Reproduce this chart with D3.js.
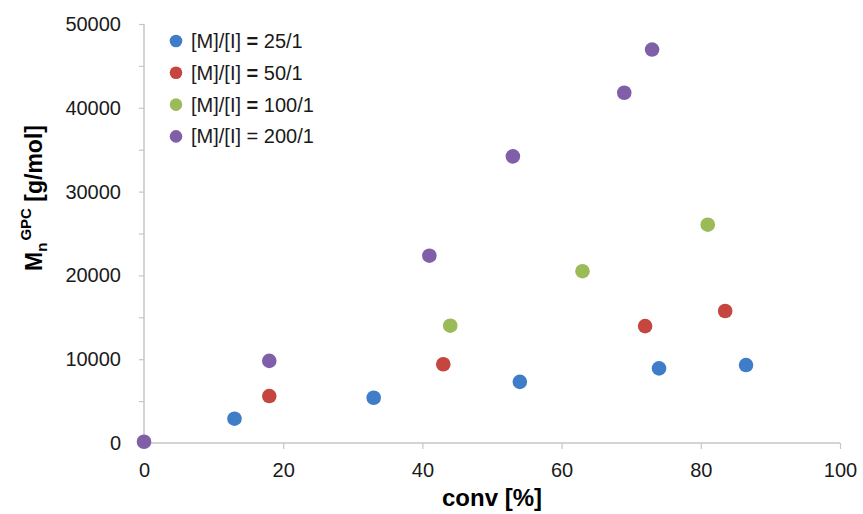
<!DOCTYPE html>
<html>
<head>
<meta charset="utf-8">
<script src="https://cdn.jsdelivr.net/npm/d3@7"></script>
<style>
  body { margin: 0; background: #fff; }
  text { font-family: "Liberation Sans", Arial, sans-serif; }
</style>
</head>
<body>
<div id="chart"></div>
<script>
// data
var seriesNames = ["[M]/[I] = 25/1", "[M]/[I] = 50/1", "[M]/[I] = 100/1", "[M]/[I] = 200/1"];
var seriesColors = ["#3f7dc8", "#c4463f", "#9bbb59", "#7f5fa8"];

var conv25 = [13, 33, 54, 74, 86.5];
var mn25 = [2900, 5400, 7300, 8900, 9300];

var conv50 = [18, 43, 72, 83.5];
var mn50 = [5600, 9400, 13950, 15750];

var conv100 = [44, 63, 81];
var mn100 = [14000, 20500, 26050];

var conv200 = [0, 18, 41, 53, 69, 73];
var mn200 = [150, 9800, 22350, 34200, 41800, 46950];

var xTicks = [0, 20, 40, 60, 80, 100];
var yTicks = [0, 5000, 10000, 15000, 20000, 25000, 30000, 35000, 40000, 45000, 50000];
var yLabels = [0, 10000, 20000, 30000, 40000, 50000];

var allSeries = [
  {conv: conv25, mn: mn25},
  {conv: conv50, mn: mn50},
  {conv: conv100, mn: mn100},
  {conv: conv200, mn: mn200}
];

// set the dimensions and margins of the graph
var margin = {top: 24, right: 23, bottom: 71, left: 144},
    width = 863 - margin.left - margin.right,
    height = 514 - margin.top - margin.bottom;

var svg = d3.select("#chart")
  .append("svg")
    .attr("width", 863)
    .attr("height", 514)
  .append("g")
    .attr("transform", "translate(" + margin.left + "," + margin.top + ")");

var x = d3.scaleLinear().domain([0, 100]).range([0, width]);
var y = d3.scaleLinear().domain([0, 50000]).range([height, 0]);

var axisColor = "#c6c6c6";

// x axis
var xAxis = svg.append("g")
    .attr("transform", "translate(0," + height + ")")
    .call(d3.axisBottom(x).tickValues(xTicks).tickSize(6).tickPadding(14).tickFormat(d3.format("d")));
xAxis.select(".domain").attr("stroke", axisColor).attr("stroke-width", 1.5).attr("d", "M0,0H" + width);
xAxis.selectAll(".tick line").attr("stroke", axisColor).attr("stroke-width", 1.2);
xAxis.selectAll(".tick text")
    .style("font-size", "20px").attr("fill", "#1a1a1a");

// y axis
var yAxis = svg.append("g")
    .call(d3.axisLeft(y).tickValues(yTicks).tickSize(5).tickPadding(18)
      .tickFormat(function(d) { return yLabels.indexOf(d) >= 0 ? d : ""; }));
yAxis.select(".domain").attr("stroke", axisColor).attr("stroke-width", 1.5).attr("d", "M0,0V" + height);
yAxis.selectAll(".tick line").attr("stroke", axisColor).attr("stroke-width", 1.2);
yAxis.selectAll(".tick text")
    .style("font-size", "20px").attr("fill", "#1a1a1a");

// points
allSeries.forEach(function(s, i) {
  svg.append("g").selectAll("circle")
      .data(d3.range(s.conv.length))
      .enter()
      .append("circle")
        .attr("cx", function(j) { return x(s.conv[j]); })
        .attr("cy", function(j) { return y(s.mn[j]); })
        .attr("r", 7.3)
        .style("fill", seriesColors[i]);
});

// axis titles
svg.append("text")
    .attr("x", width / 2)
    .attr("y", height + 63)
    .attr("text-anchor", "middle")
    .style("font-size", "24px")
    .style("font-weight", "bold")
    .text("conv [%]");

var yTitle = svg.append("text")
    .attr("transform", "translate(" + (42 - margin.left) + "," + (198 - margin.top) + ") rotate(-90)")
    .attr("text-anchor", "middle")
    .style("font-size", "23px")
    .style("font-weight", "bold");
yTitle.append("tspan").text("M");
yTitle.append("tspan").attr("dy", 5).style("font-size", "15px").text("n");
yTitle.append("tspan").attr("dx", 2).attr("dy", -16).style("font-size", "15px").text("GPC");
yTitle.append("tspan").attr("dy", 11).text(" [g/mol]");

// legend
var legend = svg.append("g").attr("transform", "translate(" + (176 - margin.left) + "," + (41 - margin.top) + ")");
seriesNames.forEach(function(name, i) {
  var row = legend.append("g").attr("transform", "translate(0," + (i * 31.8) + ")");
  row.append("circle").attr("r", 6.3).style("fill", seriesColors[i]);
  var t = row.append("text")
      .attr("x", 15)
      .attr("dy", "0.35em")
      .style("font-size", "20px")
      .attr("fill", "#1a1a1a");
  var parts = name.split(" = ");
  t.append("tspan").text(parts[0] + " ");
  t.append("tspan").style("font-weight", i < 3 ? "bold" : "normal").text("=");
  t.append("tspan").text(" " + parts[1]);
});
</script>
</body>
</html>
